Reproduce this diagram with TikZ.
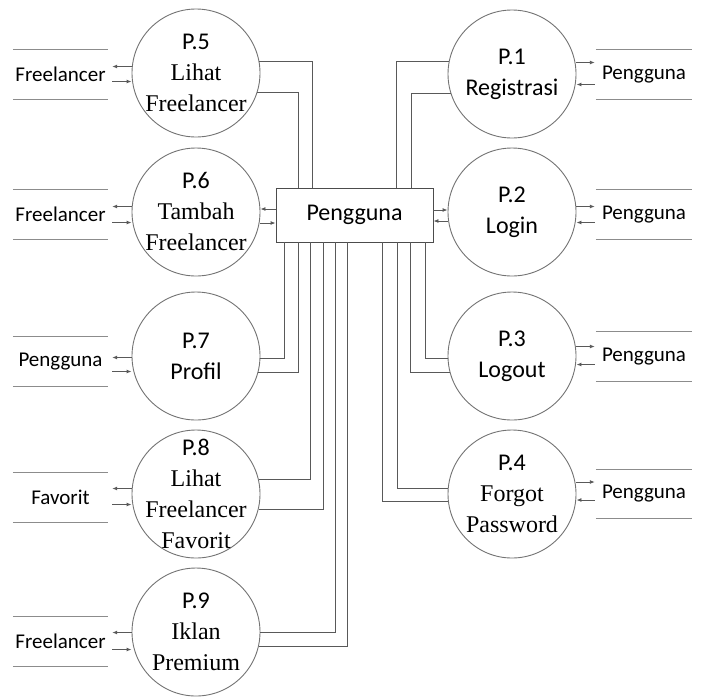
\documentclass[tikz,border=0pt]{standalone}
\usepackage{fontspec}
\setmainfont{Carlito}
\newfontfamily\tnr{Liberation Serif}
\usetikzlibrary{arrows.meta, positioning}

\tikzset{
  proc/.style={circle, draw=black!55, line width=0.9pt, minimum size=128pt, inner sep=0pt},
  ptext/.style={align=center, font=\fontsize{24}{31}\selectfont},
  store/.style={minimum height=49pt, inner sep=0pt, font=\fontsize{21}{25}\selectfont},
  storeline/.style={draw=black!45, line width=1.2pt},
  entity/.style={rectangle, draw=black!70, line width=0.9pt, minimum width=157pt, minimum height=54pt, inner sep=0pt, font=\fontsize{24}{29}\selectfont},
  link/.style={draw=black!65, line width=0.9pt},
  flow/.style={link, -{Latex[length=5pt,width=4pt]}}
}

\begin{document}
\begin{tikzpicture}[x=1pt, y=-1pt]
  \useasboundingbox (0,0) rectangle (701,697);

  % --- central entity ---
  \node[entity] (box) at (354.5,215) {Pengguna};

  % --- processes, left column ---
  \node[proc] (p5) at (196,73) {};
  \node[ptext] (p5t) at (p5) {P.5\\{\tnr Lihat}\\{\tnr Freelancer}};
  \node[proc] (p6) at (196,212) {};
  \node[ptext] (p6t) at (p6) {P.6\\{\tnr Tambah}\\{\tnr Freelancer}};
  \node[proc] (p7) at (196,356) {};
  \node[ptext] (p7t) at (p7) {P.7\\Profil};
  \node[proc] (p8) at (196,494) {};
  \node[ptext] (p8t) at (p8) {P.8\\{\tnr Lihat}\\{\tnr Freelancer}\\{\tnr Favorit}};
  \node[proc] (p9) at (196,632) {};
  \node[ptext] (p9t) at (p9) {P.9\\{\tnr Iklan}\\{\tnr Premium}};

  % --- processes, right column ---
  \node[proc] (p1) at (512,74) {};
  \node[ptext] (p1t) at (p1) {P.1\\Registrasi};
  \node[proc] (p2) at (512,212) {};
  \node[ptext] (p2t) at (p2) {P.2\\Login};
  \node[proc] (p3) at (512,356) {};
  \node[ptext] (p3t) at (p3) {P.3\\Logout};
  \node[proc] (p4) at (512,494) {};
  \node[ptext] (p4t) at (p4) {P.4\\{\tnr Forgot}\\{\tnr Password}};

  % --- data stores ---
  \node[store, minimum width=95pt] (s5) at (60.5,74.5) {Freelancer};
  \node[store, minimum width=95pt] (s6) at (60.5,214.5) {Freelancer};
  \node[store, minimum width=95pt] (s7) at (60.5,361.5) {Pengguna};
  \node[store, minimum width=95pt] (s8) at (60.5,497.5) {Favorit};
  \node[store, minimum width=95pt] (s9) at (60.5,641.5) {Freelancer};
  \node[store, minimum width=96pt] (s1) at (644,74.5) {Pengguna};
  \node[store, minimum width=96pt] (s2) at (644,214.5) {Pengguna};
  \node[store, minimum width=96pt] (s3) at (644,356.5) {Pengguna};
  \node[store, minimum width=96pt] (s4) at (644,494) {Pengguna};
  \foreach \s in {s1,s2,s3,s4,s5,s6,s7,s8,s9}
    \draw[storeline] (\s.north west) -- (\s.north east) (\s.south west) -- (\s.south east);

  % store flows, left
  \foreach \p/\s/\a/\b in {p5/s5/8/-7, p6/s6/8/-8, p7/s7/4/-10, p8/s8/9/-7, p9/s9/9/-8} {
    \draw[flow] ([yshift=\a pt]\s.east -| \p.west) -- ([xshift=4pt,yshift=\a pt]\s.east);
    \draw[flow] ([xshift=4pt,yshift=\b pt]\s.east) -- ([yshift=\b pt]\s.east -| \p.west);
  }
  % store flows, right
  \foreach \p/\s/\a/\b in {p1/s1/12/-10, p2/s2/8/-8, p3/s3/10/-8, p4/s4/12/-6} {
    \draw[flow] ([yshift=\a pt]\s.west -| \p.east) -- ([xshift=-1pt,yshift=\a pt]\s.west);
    \draw[flow] ([xshift=-1pt,yshift=\b pt]\s.west) -- ([yshift=\b pt]\s.west -| \p.east);
  }

  % --- flows to the entity ---
  \draw[flow] ([yshift=6pt]box.west) -- ([yshift=6pt]box.west -| p6.east);
  \draw[flow] ([yshift=-8pt]box.west -| p6.east) -- ([yshift=-8pt]box.west);
  \draw[flow] ([yshift=5pt]box.east) -- ([yshift=5pt]box.east -| p2.west);
  \draw[flow] ([yshift=-6pt]box.east -| p2.west) -- ([yshift=-6pt]box.east);

  \draw[link] (p5.10)  -| ([xshift=37pt]box.north west);
  \draw[link] (p5.-18) -| ([xshift=23pt]box.north west);
  \draw[link] (p1.169) -| ([xshift=121pt]box.north west);
  \draw[link] (p1.198) -| ([xshift=136pt]box.north west);

  \draw[link] (p7.-2)  -| ([xshift=9pt]box.south west);
  \draw[link] (p7.-15) -| ([xshift=23pt]box.south west);
  \draw[link] (p8.13)  -| ([xshift=35pt]box.south west);
  \draw[link] (p8.-14) -| ([xshift=48pt]box.south west);
  \draw[link] (p9.0)   -| ([xshift=60pt]box.south west);
  \draw[link] (p9.-13) -| ([xshift=72pt]box.south west);

  \draw[link] (p3.182) -| ([xshift=-8pt]box.south east);
  \draw[link] (p3.195) -| ([xshift=-23pt]box.south east);
  \draw[link] (p4.175) -| ([xshift=-36pt]box.south east);
  \draw[link] (p4.187) -| ([xshift=-51pt]box.south east);
\end{tikzpicture}
\end{document}
